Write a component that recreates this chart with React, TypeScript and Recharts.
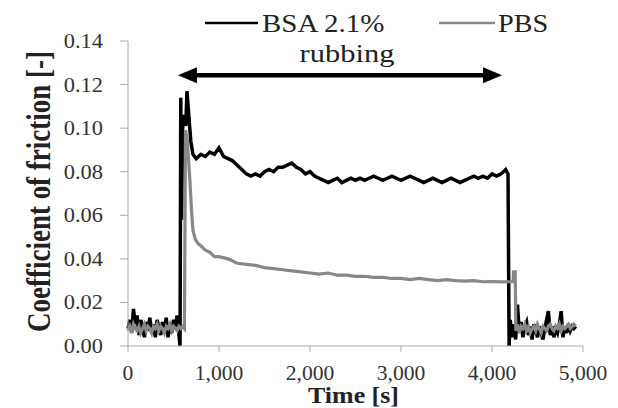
import React from 'react'
import { LineChart, Line, XAxis, YAxis, Legend, ReferenceLine } from 'recharts'

const FONT = '"Liberation Serif", "Times New Roman", serif'

const xTicks = [0, 1000, 2000, 3000, 4000, 5000]
const yTicks = [0, 0.02, 0.04, 0.06, 0.08, 0.1, 0.12, 0.14]

// BSA 2.1% (black trace)
const bsaTime = [
  0, 20, 40, 60, 80, 100, 120, 140, 160, 180, 200, 220, 240, 260, 280, 300, 320, 340, 360, 380,
  400, 420, 440, 460, 480, 500, 520, 540, 560,
  572, 580, 588, 600, 620, 635, 648, 668, 690, 714,
  750, 800, 850, 900, 950, 1000, 1050, 1100, 1150, 1200, 1250, 1300, 1350, 1400, 1450, 1500,
  1550, 1600, 1650, 1700, 1750, 1800, 1850, 1900, 1950, 2000, 2050, 2100, 2150, 2200, 2250,
  2300, 2350, 2400, 2450, 2500, 2550, 2600, 2650, 2700, 2750, 2800, 2850, 2900, 2950, 3000,
  3050, 3100, 3150, 3200, 3250, 3300, 3350, 3400, 3450, 3500, 3550, 3600, 3650, 3700, 3750,
  3800, 3850, 3900, 3950, 4000, 4050, 4100, 4150,
  4176, 4188,
  4200, 4220, 4240, 4260, 4280, 4300, 4320, 4340, 4360, 4380, 4400, 4420, 4440, 4460, 4480,
  4500, 4520, 4540, 4560, 4580, 4600, 4620, 4640, 4660, 4680, 4700, 4720, 4740, 4760, 4780,
  4800, 4820, 4840, 4860, 4880, 4900, 4920,
]
const bsaCof = [
  0.008, 0.012, 0.006, 0.017, 0.01, 0.014, 0.005, 0.012, 0.009, 0.004, 0.011, 0.007, 0.013, 0.006,
  0.01, 0.004, 0.012, 0.008, 0.005, 0.011, 0.007, 0.013, 0.004, 0.01, 0.006, 0.012, 0.009, 0.014,
  0.005,
  0.0, 0.114, 0.058, 0.1, 0.106, 0.101, 0.117, 0.106, 0.094, 0.088,
  0.086, 0.088, 0.087, 0.089, 0.088, 0.091, 0.087, 0.086, 0.085, 0.083, 0.081, 0.079, 0.078,
  0.079, 0.078, 0.08, 0.081, 0.08, 0.082, 0.082, 0.083, 0.084, 0.082, 0.081, 0.079, 0.08, 0.078,
  0.077, 0.076, 0.075, 0.076, 0.077, 0.075, 0.076, 0.077, 0.076, 0.077, 0.076, 0.077, 0.078,
  0.077, 0.076, 0.077, 0.078, 0.077, 0.076, 0.077, 0.078, 0.077, 0.076, 0.075, 0.076, 0.077,
  0.076, 0.075, 0.076, 0.077, 0.076, 0.075, 0.076, 0.077, 0.078, 0.077, 0.078, 0.077, 0.079,
  0.078, 0.079, 0.081,
  0.079, 0.0,
  0.012, 0.004, 0.01, 0.003, 0.019, 0.006, 0.011, 0.004, 0.009, 0.011, 0.005, 0.009, 0.003, 0.01,
  0.007, 0.004, 0.009, 0.006, 0.003, 0.008, 0.012, 0.016, 0.005, 0.009, 0.004, 0.008, 0.006, 0.01,
  0.016, 0.004, 0.009, 0.006, 0.01, 0.007, 0.009, 0.008, 0.009,
]

// PBS (grey trace)
const pbsTime = [
  0, 20, 40, 60, 80, 100, 120, 140, 160, 180, 200, 220, 240, 260, 280, 300, 320, 340, 360, 380,
  400, 420, 440, 460, 480, 500, 520, 540, 560, 580, 600, 620,
  632, 650, 665, 680, 697, 714, 740, 770, 800, 850, 900, 950, 1000,
  1100, 1200, 1300, 1400, 1500, 1600, 1700, 1800, 1900, 2000, 2100, 2200, 2300, 2400, 2500,
  2600, 2700, 2800, 2900, 3000, 3100, 3200, 3300, 3400, 3500, 3600, 3700, 3800, 3900, 4000,
  4100, 4200, 4232, 4236, 4255, 4262,
  4280, 4300, 4320, 4340, 4360, 4380, 4400, 4420, 4440, 4460, 4480, 4500, 4520, 4540, 4560,
  4580, 4600, 4620, 4640, 4660, 4680, 4700, 4720, 4740, 4760, 4780, 4800, 4820, 4840, 4860,
  4880, 4900, 4920,
]
const pbsCof = [
  0.007, 0.009, 0.006, 0.01, 0.008, 0.007, 0.009, 0.006, 0.008, 0.01, 0.007, 0.009, 0.008, 0.006,
  0.009, 0.008, 0.01, 0.007, 0.009, 0.008, 0.006, 0.009, 0.008, 0.01, 0.007, 0.009, 0.008, 0.007,
  0.009, 0.008, 0.009, 0.008,
  0.099, 0.095, 0.086, 0.076, 0.063, 0.053, 0.049, 0.047, 0.046, 0.044, 0.043, 0.041, 0.041,
  0.04, 0.038, 0.0375, 0.037, 0.036, 0.0355, 0.035, 0.0345, 0.034, 0.0335, 0.033, 0.0335,
  0.0325, 0.0325, 0.032, 0.032, 0.0315, 0.0315, 0.031, 0.031, 0.0305, 0.031, 0.0305, 0.03,
  0.0305, 0.03, 0.0298, 0.03, 0.0295, 0.0296, 0.0294, 0.0295, 0.0295, 0.034, 0.034, 0.007,
  0.01, 0.006, 0.009, 0.008, 0.01, 0.007, 0.009, 0.006, 0.008, 0.009, 0.007, 0.01, 0.008, 0.006,
  0.009, 0.008, 0.007, 0.009, 0.01, 0.008, 0.007, 0.009, 0.008, 0.01, 0.007, 0.009, 0.008,
  0.009, 0.01, 0.008, 0.009, 0.01, 0.009,
]

// rubbing period arrow
const rubStart = 549
const rubEnd = 4110
const rubLevel = 0.1243

const bsaData = bsaTime.map((t, i) => ({ t, v: bsaCof[i] }))
const pbsData = pbsTime.map((t, i) => ({ t, v: pbsCof[i] }))

const YTick = (props: any) => {
  const { x, y, payload } = props
  return (
    <text
      transform={`translate(${x},${y}) scale(1.12,1)`}
      textAnchor="end"
      dy="0.35em"
      fontFamily={FONT}
      fontSize={20}
      fill="#333"
    >
      {Number(payload.value).toFixed(2)}
    </text>
  )
}

const XTick = (props: any) => {
  const { x, y, payload } = props
  return (
    <text
      transform={`translate(${x},${y}) scale(1.08,1)`}
      textAnchor="middle"
      dy="0.75em"
      fontFamily={FONT}
      fontSize={20}
      fill="#333"
    >
      {Number(payload.value).toLocaleString('en-US')}
    </text>
  )
}

const LegendBox = () => (
  <svg width={618} height={45}>
    <line x1={205} y1={23} x2={258} y2={23} stroke="#000" strokeWidth={2.5} />
    <text
      transform="translate(262,32) scale(1.16,1)"
      fontFamily={FONT}
      fontSize={25}
      fill="#222"
    >
      BSA 2.1%
    </text>
    <line x1={439} y1={23} x2={495} y2={23} stroke="#888" strokeWidth={2.5} />
    <text
      transform="translate(498,32) scale(1.13,1)"
      fontFamily={FONT}
      fontSize={25}
      fill="#222"
    >
      PBS
    </text>
  </svg>
)

const RubArrow = (props: any) => {
  const { x1, y1, x2, y2 } = props
  const head = 19
  return (
    <g>
      <line x1={x1 + head - 2} y1={y1} x2={x2 - head + 2} y2={y2} stroke="#000" strokeWidth={4.5} />
      <polygon points={`${x1},${y1} ${x1 + head},${y1 - 8} ${x1 + head},${y1 + 8}`} fill="#000" />
      <polygon points={`${x2},${y2} ${x2 - head},${y2 - 8} ${x2 - head},${y2 + 8}`} fill="#000" />
      <text
        transform={`translate(${(x1 + x2) / 2 + 7},${y1 - 13}) scale(1.22,1)`}
        textAnchor="middle"
        fontFamily={FONT}
        fontSize={25}
        fill="#222"
      >
        rubbing
      </text>
    </g>
  )
}

export default function App() {
  return (
    <div style={{ position: 'absolute', left: 0, top: 0, background: '#fff' }}>
      <LineChart width={618} height={408} margin={{ top: 41, right: 35, bottom: 0, left: 0 }}>
        <XAxis
          dataKey="t"
          type="number"
          domain={[0, 5000]}
          ticks={xTicks}
          height={62}
          stroke="#a8a8a8"
          tickSize={6}
          tickMargin={13}
          tick={<XTick />}
          label={(p: any) => {
            const vb = p.viewBox
            return (
              <text
                transform={`translate(${vb.x + vb.width / 2 - 2},${vb.y + 57}) scale(1.08,1)`}
                textAnchor="middle"
                fontFamily={FONT}
                fontWeight="bold"
                fontSize={24}
                fill="#222"
              >
                Time [s]
              </text>
            )
          }}
        />
        <YAxis
          type="number"
          domain={[0, 0.14]}
          ticks={yTicks}
          width={128}
          stroke="#a8a8a8"
          tickSize={8}
          tickMargin={17}
          tick={<YTick />}
          label={(p: any) => {
            const vb = p.viewBox
            return (
              <text
                transform={`translate(50,${vb.y + vb.height / 2 - 2}) rotate(-90) scale(1,1.25)`}
                textAnchor="middle"
                fontFamily={FONT}
                fontWeight="bold"
                fontSize={27}
                fill="#222"
              >
                Coefficient of friction [-]
              </text>
            )
          }}
        />
        <Legend
          verticalAlign="middle"
          align="center"
          layout="horizontal"
          wrapperStyle={{ top: 0, left: 0, width: 618, height: 45 }}
          content={() => <LegendBox />}
        />
        <ReferenceLine
          segment={[
            { x: rubStart, y: rubLevel },
            { x: rubEnd, y: rubLevel },
          ]}
          shape={<RubArrow />}
        />
        <Line
          data={bsaData}
          dataKey="v"
          name="BSA 2.1%"
          type="linear"
          stroke="#000"
          strokeWidth={3.5}
          dot={false}
          isAnimationActive={false}
        />
        <Line
          data={pbsData}
          dataKey="v"
          name="PBS"
          type="linear"
          stroke="#888"
          strokeWidth={3.2}
          dot={false}
          isAnimationActive={false}
        />
      </LineChart>
    </div>
  )
}
